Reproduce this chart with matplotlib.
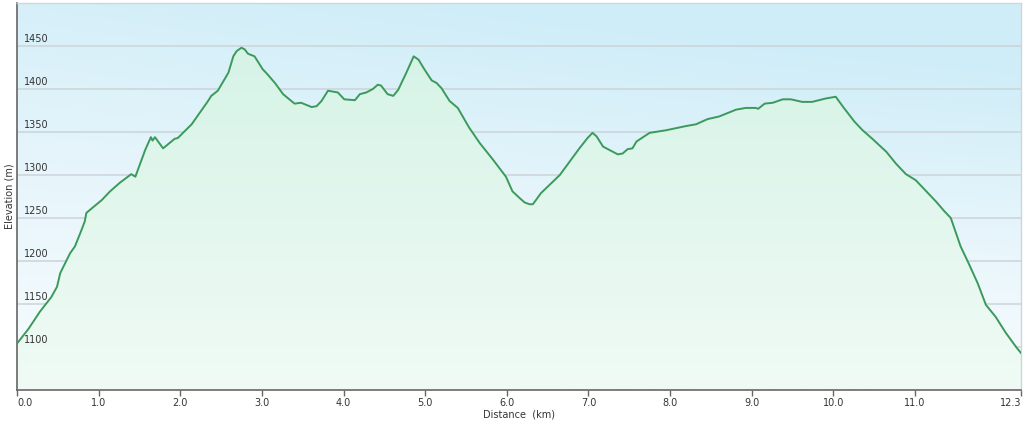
import matplotlib
matplotlib.use("Agg")
import matplotlib.pyplot as plt
import numpy as np
from matplotlib.colors import LinearSegmentedColormap

# elevation profile
distance_km = [
    0.00, 0.14, 0.28, 0.42, 0.49, 0.53, 0.65, 0.71, 0.79, 0.83, 0.85,
    1.04, 1.14, 1.26, 1.40, 1.45, 1.57, 1.64, 1.66, 1.69, 1.79, 1.93, 1.97,
    2.14, 2.34, 2.38, 2.46, 2.59, 2.65, 2.69, 2.75, 2.79, 2.83, 2.91, 2.95,
    3.01, 3.06, 3.16, 3.26, 3.40, 3.48, 3.61, 3.67, 3.73, 3.81, 3.93,
    4.01, 4.14, 4.20, 4.28, 4.36, 4.42, 4.46, 4.54, 4.61, 4.67, 4.77, 4.86,
    4.92, 4.99, 5.08, 5.14, 5.20, 5.30, 5.40, 5.54, 5.67, 5.83, 5.99,
    6.07, 6.16, 6.22, 6.28, 6.32, 6.42, 6.65, 6.89, 6.99, 7.05, 7.10, 7.18,
    7.30, 7.36, 7.42, 7.48, 7.54, 7.59, 7.67, 7.75, 7.95, 8.20, 8.32, 8.46,
    8.60, 8.81, 8.93, 9.05, 9.08, 9.16, 9.26, 9.38, 9.48, 9.62, 9.74, 9.91,
    10.03, 10.13, 10.26, 10.36, 10.48, 10.65, 10.77, 10.89, 11.01, 11.14,
    11.26, 11.36, 11.44, 11.56, 11.66, 11.77, 11.87, 11.99, 12.11, 12.24, 12.30,
]
elevation_m = [
    1104, 1121, 1141, 1158, 1170, 1186, 1209, 1217, 1236, 1246, 1256,
    1271, 1281, 1291, 1301, 1298, 1329, 1344, 1340, 1344, 1331, 1342, 1343,
    1359, 1386, 1392, 1398, 1419, 1438, 1444, 1448, 1446, 1441, 1438, 1432,
    1423, 1418, 1407, 1394, 1383, 1384, 1379, 1380, 1386, 1398, 1396,
    1388, 1387, 1394, 1396, 1400, 1405, 1404, 1394, 1392, 1399, 1419, 1438,
    1434, 1423, 1410, 1407, 1401, 1386, 1378, 1355, 1337, 1318, 1298,
    1281, 1273, 1268, 1266, 1266, 1279, 1300, 1331, 1343, 1349, 1345, 1333,
    1327, 1324, 1325, 1330, 1331, 1339, 1344, 1349, 1352, 1357, 1359, 1365,
    1368, 1376, 1378, 1378, 1377, 1383, 1384, 1388, 1388, 1385, 1385, 1389,
    1391, 1378, 1362, 1352, 1342, 1327, 1313, 1301, 1294, 1281,
    1269, 1258, 1250, 1217, 1197, 1174, 1149, 1135, 1117, 1100, 1093,
]

x_ticks = [0.0, 1.0, 2.0, 3.0, 4.0, 5.0, 6.0, 7.0, 8.0, 9.0, 10.0, 11.0, 12.3]
y_ticks = [1100, 1150, 1200, 1250, 1300, 1350, 1400, 1450]

x_min, x_max = 0.0, 12.3
y_min, y_max = 1050, 1500

fig = plt.figure(figsize=(10.24, 4.24), dpi=100)
ax = fig.add_axes([17 / 1024, 34 / 424, 1004 / 1024, 387 / 424])

# sky background: light blue at the top fading to white at bottom right
yy, xx = np.mgrid[0:1:200j, 0:1:300j]
t = np.clip(0.85 * yy + 0.35 * xx * yy, 0, 1)
sky = LinearSegmentedColormap.from_list("sky", ["#f8fcfe", "#e6f5fb", "#cfedf8"])
ax.imshow(sky(t), extent=[x_min, x_max, y_min, y_max], origin="lower",
          aspect="auto", zorder=0)

for yv in y_ticks:
    ax.axhline(yv, color="#cbd4d8", linewidth=1.1, zorder=1)

# green gradient fill under the line
fill = ax.fill_between(distance_km, elevation_m, y_min, color="none", zorder=2)
mint = LinearSegmentedColormap.from_list("mint", ["#f0fbf5", "#d6f3e6"])
grad = np.linspace(0, 1, 200).reshape(-1, 1)
img = ax.imshow(mint(grad), extent=[x_min, x_max, y_min, 1450], origin="lower",
                aspect="auto", zorder=2)
img.set_clip_path(fill.get_paths()[0], transform=ax.transData)

ax.plot(distance_km, elevation_m, color="#3b9a5b", linewidth=1.4, zorder=3)

ax.set_xlim(x_min, x_max)
ax.set_ylim(y_min, y_max)

ax.set_xticks(x_ticks)
ax.set_xticklabels([f"{v:.1f}" for v in x_ticks], fontsize=7, color="#333333")
labels = ax.get_xticklabels()
labels[0].set_horizontalalignment("left")
labels[-1].set_horizontalalignment("right")
ax.tick_params(axis="x", direction="out", length=4, width=1, color="#666666", pad=1.5)

ax.set_yticks([])
for yv in y_ticks:
    ax.text(0.08, yv + 2, str(yv), fontsize=7, color="#333333",
            ha="left", va="bottom", zorder=4)

ax.set_xlabel("Distance  (km)", fontsize=7, color="#333333", labelpad=1)
ax.set_ylabel("Elevation (m)", fontsize=7, color="#333333", labelpad=2)

for side in ["left", "bottom"]:
    ax.spines[side].set_color("#666666")
    ax.spines[side].set_linewidth(1.2)
for side in ["top", "right"]:
    ax.spines[side].set_color("#cfd6d9")
    ax.spines[side].set_linewidth(1.0)

fig.savefig("out.png", dpi=100)
plt.close(fig)
